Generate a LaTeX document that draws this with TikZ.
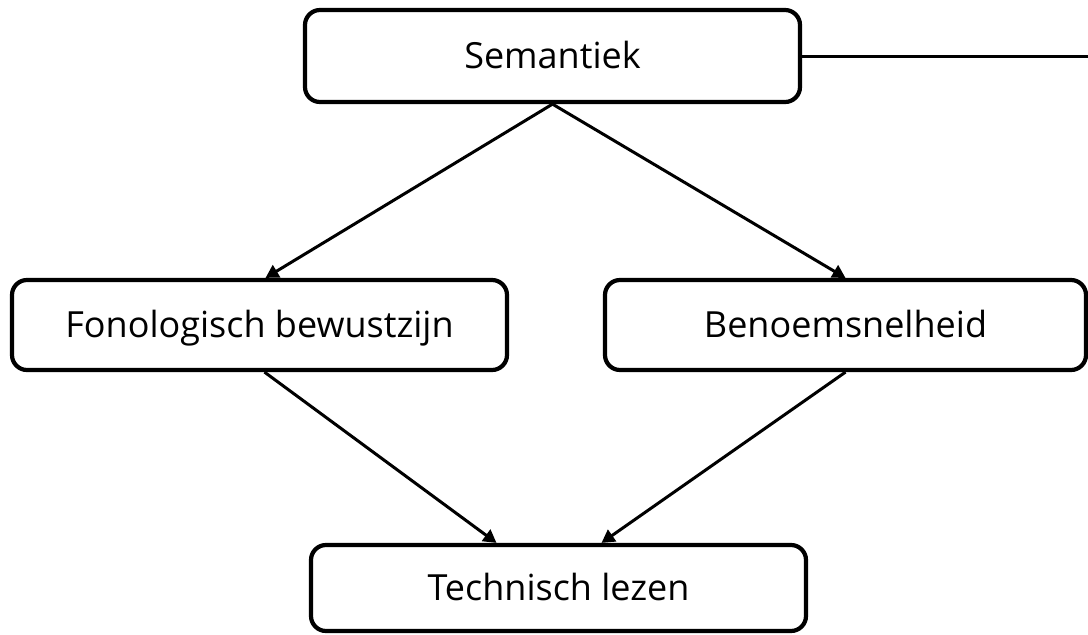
\documentclass[tikz,border=0pt]{standalone}
\usepackage{fontspec}
\setmainfont{Open Sans}
\usetikzlibrary{arrows.meta,calc}
\begin{document}
\begin{tikzpicture}[x=1pt,y=-1pt,
  box/.style={draw=black,line width=4.2pt,rounded corners=15pt,fill=white,inner sep=0pt,text height=25.7pt,text depth=0pt,font=\fontsize{36}{42}\selectfont},
  conn/.style={line width=3pt,-{Triangle[length=13pt,width=14pt]}},
  plain/.style={line width=3pt}]
\useasboundingbox (0,0) rectangle (1088,635);
\node[box,minimum width=495pt,minimum height=92pt] (sem) at (552.5,56) {Semantiek};
\node[box,minimum width=495pt,minimum height=90pt] (fon) at (259.5,325) {Fonologisch bewustzijn};
\node[box,minimum width=481pt,minimum height=90pt] (ben) at (845.5,325) {Benoemsnelheid};
\node[box,minimum width=495pt,minimum height=86pt] (tec) at (558.5,588) {Technisch lezen};
\coordinate (edge) at (1088,56);
\draw[plain] (sem.east) -- (edge);
\draw[conn] (sem.south) -- ([xshift=6pt]fon.north);
\draw[conn] (sem.south) -- (ben.north);
\draw[conn] ([xshift=5pt]fon.south) -- ([xshift=-62pt]tec.north);
\draw[conn] (ben.south) -- ([xshift=43pt]tec.north);
\end{tikzpicture}
\end{document}
